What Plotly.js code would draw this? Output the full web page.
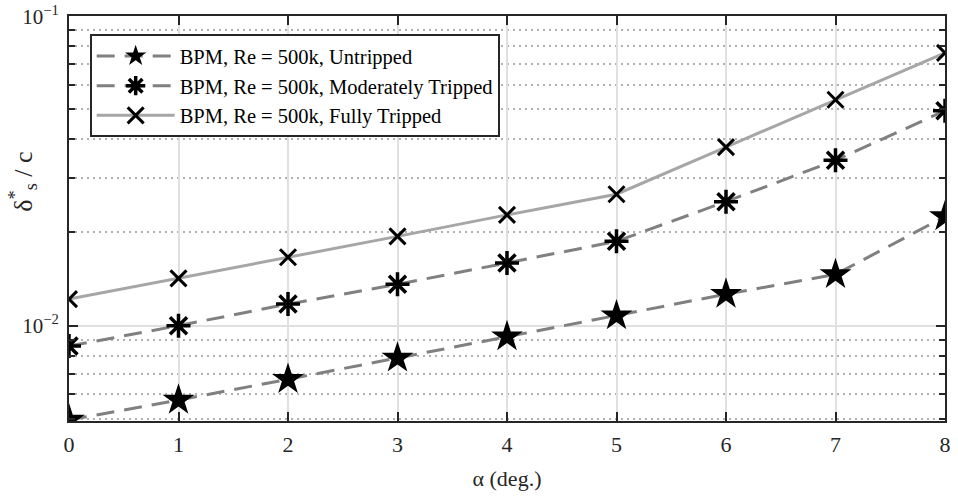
<!DOCTYPE html>
<html>
<head>
<meta charset="utf-8">
<script src="https://cdn.plot.ly/plotly-3.0.1.min.js"></script>
<style>html,body{margin:0;padding:0;background:#fff;}#chart{width:958px;height:500px;}</style>
</head>
<body>
<div id="chart"></div>
<script>
var alpha = [0, 1, 2, 3, 4, 5, 6, 7, 8];
var untripped = [0.00496, 0.00575, 0.00671, 0.00786, 0.00922, 0.01077, 0.01264, 0.01464, 0.02252];
var moderately = [0.00859, 0.0100, 0.01174, 0.01360, 0.01595, 0.01873, 0.02516, 0.03422, 0.04949];
var fully = [0.01218, 0.01422, 0.01664, 0.01943, 0.0228, 0.02659, 0.03776, 0.05367, 0.0761];
var names = ['BPM, Re = 500k, Untripped', 'BPM, Re = 500k, Moderately Tripped', 'BPM, Re = 500k, Fully Tripped'];
var xTicks = [0, 1, 2, 3, 4, 5, 6, 7, 8];
var yTickVals = [0.01, 0.1];
var yTickText = ['10<sup>\u22122</sup>', '10<sup>\u22121</sup>'];
var yTitle = '\u03b4<sup>*</sup><sub>s</sub> / c';
var xTitle = '\u03b1 (deg.)';

var serif = 'Liberation Serif, Times New Roman, serif';
var traces = [
  {x: alpha, y: untripped, name: names[0], mode: 'lines+markers', type: 'scatter',
   line: {color: '#808080', width: 3, dash: '18px,10px'},
   marker: {symbol: 'star', size: 24, color: '#000000', line: {width: 0}}},
  {x: alpha, y: moderately, name: names[1], mode: 'lines+markers', type: 'scatter',
   line: {color: '#808080', width: 3, dash: '18px,10px'},
   marker: {symbol: 'asterisk-open', size: 20, color: '#000000', line: {width: 3.5, color: '#000000'}}},
  {x: alpha, y: fully, name: names[2], mode: 'lines+markers', type: 'scatter',
   line: {color: '#a6a6a6', width: 3},
   marker: {symbol: 'x-thin-open', size: 16, color: '#000000', line: {width: 3, color: '#000000'}}}
];

var layout = {
  width: 958, height: 500,
  margin: {l: 69, r: 13, t: 16, b: 79},
  paper_bgcolor: '#ffffff', plot_bgcolor: '#ffffff',
  font: {family: serif, size: 22, color: '#262626'},
  showlegend: true,
  legend: {x: 0.0236, y: 0.955, xanchor: 'left', yanchor: 'top',
    bgcolor: '#ffffff', bordercolor: '#262626', borderwidth: 2,
    font: {family: serif, size: 20.5, color: '#000000'}, itemwidth: 78, tracegroupgap: 0},
  xaxis: {
    range: [0, 8], tickvals: xTicks, ticktext: xTicks.map(String),
    ticks: 'inside', ticklen: 9, tickwidth: 2, tickcolor: '#262626',
    showline: true, linecolor: '#262626', linewidth: 2, mirror: 'ticks',
    showgrid: true, gridcolor: '#e0e0e0', gridwidth: 2, zeroline: false,
    ticklabelstandoff: 3,
    tickfont: {family: serif, size: 22, color: '#262626'},
    title: {text: xTitle, font: {family: serif, size: 22, color: '#262626'}, standoff: 14}
  },
  yaxis: {
    type: 'log', range: [Math.log10(0.00492), -0.9995],
    tickvals: yTickVals, ticktext: yTickText,
    ticks: 'inside', ticklen: 9, tickwidth: 2, tickcolor: '#262626',
    showline: true, linecolor: '#262626', linewidth: 2, mirror: 'allticks',
    showgrid: true, gridcolor: '#e0e0e0', gridwidth: 2, zeroline: false,
    ticklabelstandoff: 4, ticklabeloverflow: 'allow',
    tickfont: {family: serif, size: 21, color: '#262626'},
    minor: {dtick: 'D1', ticks: 'inside', ticklen: 6, tickwidth: 2, tickcolor: '#262626',
      showgrid: true, griddash: '2px,4px', gridcolor: '#b0b0b0', gridwidth: 2}
  },
  annotations: [
    {text: yTitle, xref: 'paper', yref: 'paper', x: -0.0529, y: 0.59,
     xanchor: 'center', yanchor: 'middle', textangle: -90, showarrow: false,
     font: {family: serif, size: 26, color: '#262626'}}
  ]
};

Plotly.newPlot('chart', traces, layout, {displayModeBar: false, staticPlot: true});
</script>
</body>
</html>
